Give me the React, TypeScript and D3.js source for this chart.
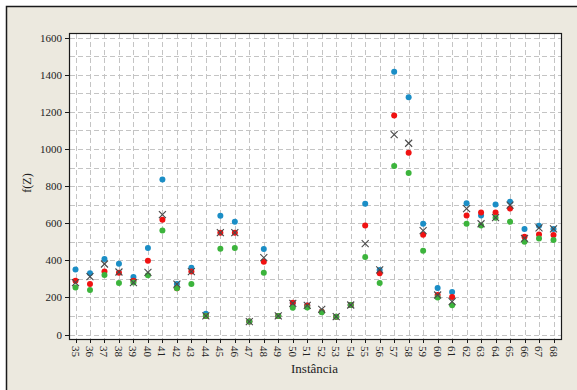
import React from "react";
import * as d3 from "d3";

// Instances on the x axis
const instances = [
  35, 36, 37, 38, 39, 40, 41, 42, 43, 44, 45, 46, 47, 48, 49, 50, 51,
  52, 53, 54, 55, 56, 57, 58, 59, 60, 61, 62, 63, 64, 65, 66, 67, 68,
];

// f(Z) for each method, one value per instance
const blueSeries = [
  350, 330, 407, 382, 310, 466, 835, 272, 360, 112, 640, 608, 70, 461, 100, 170, 157,
  122, 96, 159, 705, 348, 1417, 1279, 597, 251, 229, 707, 641, 701, 716, 569, 586, 569,
];
const redSeries = [
  290, 272, 340, 333, 290, 398, 619, 250, 339, 100, 549, 549, 70, 392, 100, 171, 157,
  122, 96, 159, 587, 330, 1180, 980, 538, 213, 202, 641, 658, 658, 679, 527, 539, 536,
];
const greenSeries = [
  253, 240, 321, 278, 280, 319, 560, 250, 272, 100, 462, 466, 70, 333, 100, 144, 145,
  120, 96, 159, 418, 278, 908, 870, 452, 199, 158, 597, 588, 630, 608, 500, 518, 509,
];
const crossSeries = [
  280, 312, 380, 337, 280, 335, 646, 272, 339, 100, 549, 549, 70, 414, 100, 168, 157,
  135, 96, 159, 490, 348, 1077, 1031, 560, 213, 177, 678, 597, 630, 698, 518, 575, 569,
];

const yTicks = [0, 200, 400, 600, 800, 1000, 1200, 1400, 1600];
const yGrid = d3.range(0, 1601, 100);

const W = 577;
const H = 390;
const plot = { left: 69, top: 33, right: 562, bottom: 340 };

const serif = "Liberation Serif";

export default function App() {
  const x = d3
    .scalePoint<number>()
    .domain(instances)
    .range([75.5, 553.5]);
  const y = d3.scaleLinear().domain([0, 1600]).range([334.5, 37.7]);

  const dots = (vals: number[], color: string, key: string) =>
    vals.map((v, i) => (
      <circle
        key={key + i}
        cx={x(instances[i])}
        cy={y(v)}
        r={3}
        fill={color}
      />
    ));

  const s = 3.5;

  return (
    <svg
      width={W}
      height={H}
      style={{ position: "absolute", left: 0, top: 0, fontFamily: serif }}
    >
      <rect x={0} y={0} width={W} height={H} fill="#ffffff" />
      <rect
        x={6.5}
        y={6.5}
        width={W + 20}
        height={H + 20}
        fill="#ECE9DF"
        stroke="#1a1a1a"
        strokeWidth={1.5}
      />
      <rect
        x={plot.left}
        y={plot.top}
        width={plot.right - plot.left}
        height={plot.bottom - plot.top}
        fill="#ffffff"
      />

      {/* dashed grid */}
      <g stroke="#c4c4c4" strokeWidth={1} strokeDasharray="5,3">
        {yGrid.map((v) => (
          <line
            key={"gy" + v}
            x1={plot.left + 1}
            x2={plot.right - 1}
            y1={Math.round(y(v)) + 0.5}
            y2={Math.round(y(v)) + 0.5}
          />
        ))}
        {instances.map((c) => (
          <line
            key={"gx" + c}
            x1={Math.round(x(c)!) + 0.5}
            x2={Math.round(x(c)!) + 0.5}
            y1={plot.top + 1}
            y2={plot.bottom - 1}
          />
        ))}
      </g>

      {/* markers */}
      {dots(blueSeries, "#1b8ec6", "b")}
      {dots(redSeries, "#f01212", "r")}
      {dots(greenSeries, "#3cb43c", "g")}
      <g stroke="#4a4a4a" strokeWidth={1.1}>
        {crossSeries.map((v, i) => {
          const cx = x(instances[i])!;
          const cy = y(v);
          return (
            <g key={"x" + i}>
              <line x1={cx - s} y1={cy - s} x2={cx + s} y2={cy + s} />
              <line x1={cx - s} y1={cy + s} x2={cx + s} y2={cy - s} />
            </g>
          );
        })}
      </g>

      {/* plot frame */}
      <rect
        x={plot.left + 0.5}
        y={plot.top + 0.5}
        width={plot.right - plot.left - 1}
        height={plot.bottom - plot.top - 1}
        fill="none"
        stroke="#1a1a1a"
        strokeWidth={1.2}
      />

      {/* y axis */}
      <g style={{ fontFamily: serif, fontSize: 11 }} fill="#222">
        {yTicks.map((v) => (
          <g key={"yt" + v}>
            <line
              x1={plot.left - 4}
              x2={plot.left}
              y1={Math.round(y(v)) + 0.5}
              y2={Math.round(y(v)) + 0.5}
              stroke="#1a1a1a"
            />
            <text
              x={plot.left - 7}
              y={y(v)}
              textAnchor="end"
              dominantBaseline="central"
            >
              {v}
            </text>
          </g>
        ))}
      </g>

      {/* x axis */}
      <g style={{ fontFamily: serif, fontSize: 11 }} fill="#222">
        {instances.map((c) => (
          <g key={"xt" + c}>
            <line
              x1={Math.round(x(c)!) + 0.5}
              x2={Math.round(x(c)!) + 0.5}
              y1={plot.bottom}
              y2={plot.bottom + 3}
              stroke="#1a1a1a"
            />
            <text
              transform={`translate(${x(c)},${plot.bottom + 6}) rotate(90)`}
              textAnchor="start"
              dominantBaseline="central"
            >
              {c}
            </text>
          </g>
        ))}
      </g>

      <text
        x={314.5}
        y={373}
        textAnchor="middle"
        style={{ fontFamily: serif, fontSize: 13 }}
        fill="#222"
      >
        Instância
      </text>
      <text
        transform="translate(31,183) rotate(-90)"
        textAnchor="middle"
        style={{ fontFamily: serif, fontSize: 12 }}
        fill="#222"
      >
        f(Z)
      </text>
    </svg>
  );
}
